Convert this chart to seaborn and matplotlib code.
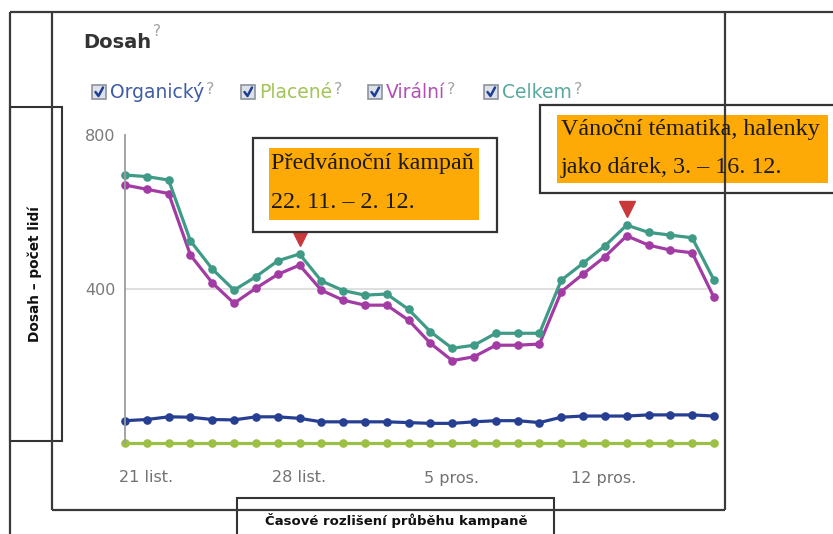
import matplotlib
matplotlib.use("Agg")
import matplotlib.pyplot as plt
import matplotlib.dates as mdates
from matplotlib.patches import Rectangle
from matplotlib.transforms import offset_copy
import pandas as pd
import seaborn as sns

# ---- data -------------------------------------------------------------
dates = pd.date_range("2012-11-21", "2012-12-18", freq="D")
organic = [58, 61, 68, 67, 61, 60, 68, 68, 64, 55, 55, 55, 55, 53,
           51, 51, 55, 58, 58, 53, 67, 70, 70, 70, 73, 73, 73, 70]
paid = [0, 0, 0, 0, 0, 0, 0, 0, 0, 0, 0, 0, 0, 0,
        0, 0, 0, 0, 0, 0, 0, 0, 0, 0, 0, 0, 0, 0]
viral = [670, 659, 648, 488, 416, 363, 402, 438, 462, 397, 371, 358, 358, 319,
         259, 214, 224, 254, 254, 257, 393, 439, 484, 538, 514, 501, 494, 378]
total = [696, 692, 683, 525, 452, 397, 432, 473, 491, 421, 396, 384, 387, 347,
         289, 246, 254, 285, 285, 285, 423, 467, 512, 566, 547, 540, 533, 423]

series_names = ["Placené", "Organický", "Virální", "Celkem"]
series_colors = {"Organický": "#263f92", "Placené": "#9cbf46",
                 "Virální": "#a23ba3", "Celkem": "#3f9a86"}
legend_order = ["Organický", "Placené", "Virální", "Celkem"]
legend_text_colors = {"Organický": "#3f5ca6", "Placené": "#a3c457",
                      "Virální": "#b24fb2", "Celkem": "#5aa9a0"}

tick_dates = ["2012-11-21", "2012-11-28", "2012-12-05", "2012-12-12"]
tick_labels = ["21 list.", "28 list.", "5 pros.", "12 pros."]
y_ticks = [400, 800]

campaign_peaks = ["2012-11-29", "2012-12-14"]
notes = [("Předvánoční kampaň", "22. 11. – 2. 12."),
         ("Vánoční tématika, halenky", "jako dárek, 3. – 16. 12.")]

title = "Dosah"
y_title = "Dosah – počet lidí"
x_title = "Časové rozlišení průběhu kampaně"

values = {"Organický": organic, "Placené": paid, "Virální": viral, "Celkem": total}
df = pd.concat(
    [pd.DataFrame({"datum": dates, "dosah": values[n], "metrika": n}) for n in series_names],
    ignore_index=True,
)

# ---- figure -----------------------------------------------------------
sns.set_style("white")
plt.rcParams["font.family"] = ["DejaVu Sans"]

W, H = 833, 534
fig = plt.figure(figsize=(W / 100, H / 100), dpi=100)
fig.patch.set_facecolor("white")


def px_rect(left, top, right, bottom):
    return [left / W, 1 - bottom / H, (right - left) / W, (bottom - top) / H]


ax = fig.add_axes(px_rect(125, 135, 714, 443))
ax.set_facecolor("none")
sns.lineplot(data=df, x="datum", y="dosah", hue="metrika", hue_order=series_names,
             palette=series_colors, marker="o", markersize=6.2, markeredgewidth=0,
             linewidth=2.3, legend=False, ax=ax, clip_on=False)

ax.set_xlim(dates[0], dates[-1])
ax.set_ylim(0, 800)
ax.axhline(400, xmin=0, xmax=0.988, color="#dcdcdc", lw=1.3, zorder=0)
for s in ["top", "right", "bottom"]:
    ax.spines[s].set_visible(False)
ax.spines["left"].set_color("#9c9c9c")
ax.spines["left"].set_linewidth(1.3)
ax.set_xticks([])
ax.set_yticks(y_ticks)
ax.set_yticklabels([str(v) for v in y_ticks])
ax.tick_params(axis="y", length=0, pad=7, labelsize=11.5, labelcolor="#7a7a7a")
ax.set_xlabel("")
ax.set_ylabel("")

for d, lbl in zip(tick_dates, tick_labels):
    ax.annotate(lbl, xy=(mdates.date2num(pd.Timestamp(d)), 0),
                xycoords=("data", "axes fraction"), xytext=(21, -35),
                textcoords="offset pixels", ha="center", va="center",
                fontsize=11.5, color="#727272")

# campaign markers above the total-reach peaks
peak_x = [pd.Timestamp(d) for d in campaign_peaks]
peak_y = [total[list(dates).index(p)] for p in peak_x]
tri_tr = offset_copy(ax.transData, fig=fig, x=0, y=16, units="dots")
ax.plot(peak_x, peak_y, linestyle="none", marker="v", markersize=11,
        color="#c9383b", transform=tri_tr, clip_on=False, zorder=5)

# ---- frame, boxes and texts in pixel space --------------------------------
ov = fig.add_axes([0, 0, 1, 1], zorder=10)
ov.set_xlim(0, W)
ov.set_ylim(H, 0)
ov.axis("off")
ov.patch.set_alpha(0)

frame_kw = dict(color="#3a3a3a", lw=1.6, solid_capstyle="butt")
ov.plot([10, W + 5], [12, 12], **frame_kw)
ov.plot([10, 10], [12, H + 5], **frame_kw)
ov.plot([52, 52], [12, 510], **frame_kw)
ov.plot([52, 725], [510, 510], **frame_kw)
ov.plot([725, 725], [12, 510], **frame_kw)

# y-axis caption box
ov.add_patch(Rectangle((10, 107), 52, 334, facecolor="white", edgecolor="#333333", lw=1.5))
ov.text(35, 274, y_title, rotation=90, ha="center", va="center",
        fontsize=9.8, fontweight="bold", color="#111111")

# x-axis caption box
ov.add_patch(Rectangle((237, 498), 317, 60, facecolor="white", edgecolor="#333333", lw=1.5))
ov.text(396, 521, x_title, ha="center", va="center",
        fontsize=9.5, fontweight="bold", color="#111111")

# chart title
renderer = fig.canvas.get_renderer()
t = ov.text(83, 42, title, ha="left", va="center", fontsize=14,
            fontweight="bold", color="#333333")
bb = t.get_window_extent(renderer)
ov.text(bb.x1 + 2, 31, "?", ha="left", va="center", fontsize=11, color="#a0a0a0")

# legend row with check boxes
box_x = [92, 241, 368, 484]
for name, bx in zip(legend_order, box_x):
    ov.add_patch(Rectangle((bx, 85), 14, 14, facecolor="#dde2ea",
                           edgecolor="#8d929b", lw=1.2))
    ov.plot([bx + 3.5, bx + 6.5, bx + 11], [92, 96, 87.5], color="#1f3e91",
            lw=1.8, solid_capstyle="round")
    lt = ov.text(bx + 18, 92, name, ha="left", va="center", fontsize=13.5,
                 color=legend_text_colors[name])
    lb = lt.get_window_extent(renderer)
    ov.text(lb.x1 + 2, 89, "?", ha="left", va="center", fontsize=11.5, color="#a5a5a5")

# campaign notes
note_boxes = [((253, 138, 497, 232), (269, 148, 479, 220), 271, (163, 202)),
              ((540, 105, 845, 193), (557, 115, 828, 183), 561, (130, 167))]
for (outer, inner, tx, tys), lines in zip(note_boxes, notes):
    ox0, oy0, ox1, oy1 = outer
    ov.add_patch(Rectangle((ox0, oy0), ox1 - ox0, oy1 - oy0, facecolor="white",
                           edgecolor="#333333", lw=1.6))
    ix0, iy0, ix1, iy1 = inner
    ov.add_patch(Rectangle((ix0, iy0), ix1 - ix0, iy1 - iy0, facecolor="#FDAA06",
                           edgecolor="none"))
    for line, ty in zip(lines, tys):
        ov.text(tx, ty, line, ha="left", va="center", fontsize=17.3,
                family="Liberation Serif", color="#1c1a14")

fig.savefig("out.png", dpi=100, facecolor="white")
